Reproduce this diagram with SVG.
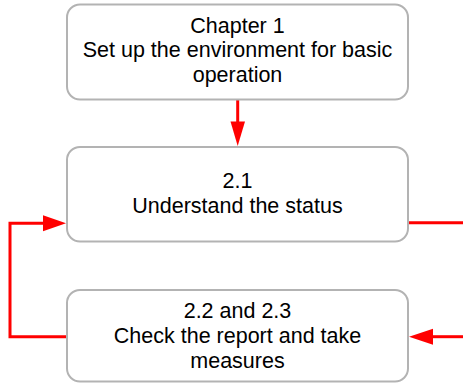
<svg xmlns="http://www.w3.org/2000/svg" width="463" height="383" viewBox="0 0 463 383">
<defs>
<style>
.box{fill:#ffffff;stroke:#b3b3b3;stroke-width:2}
.lbl{font-family:"Liberation Sans",Arial,sans-serif;font-size:21.5px;fill:#000000;text-anchor:middle}
.edge{fill:none;stroke:#ff0000;stroke-width:3}
.head{fill:#ff0000;stroke:none}
</style>
</defs>
<rect width="463" height="383" fill="#ffffff"/>
<g id="connectors">
<path class="edge" d="M237.7,99.5 V122"/>
<polygon class="head" points="230.5,121.5 245,121.5 237.7,146"/>
<path class="edge" d="M66,336.7 H10 V223.3 H44"/>
<polygon class="head" points="43,215.3 43,231.3 66,223.3"/>
<path class="edge" d="M408.5,222.7 H463"/>
<path class="edge" d="M463,336.7 H432"/>
<polygon class="head" points="433,328.7 433,344.7 409,336.7"/>
</g>
<g id="node1">
<rect class="box" x="67" y="4.5" width="341" height="95" rx="13"/>
<text class="lbl" x="237.5" y="32.7">Chapter 1</text>
<text class="lbl" x="237.5" y="57.2">Set up the environment for basic</text>
<text class="lbl" x="237.5" y="81.7">operation</text>
</g>
<g id="node2">
<rect class="box" x="67" y="147" width="341" height="94.5" rx="13"/>
<text class="lbl" x="237.5" y="188.3">2.1</text>
<text class="lbl" x="237.5" y="213.3">Understand the status</text>
</g>
<g id="node3">
<rect class="box" x="67" y="290" width="341" height="91.5" rx="13"/>
<text class="lbl" x="237.5" y="318.3">2.2 and 2.3</text>
<text class="lbl" x="237.5" y="343.3">Check the report and take</text>
<text class="lbl" x="237.5" y="368.3">measures</text>
</g>
</svg>
